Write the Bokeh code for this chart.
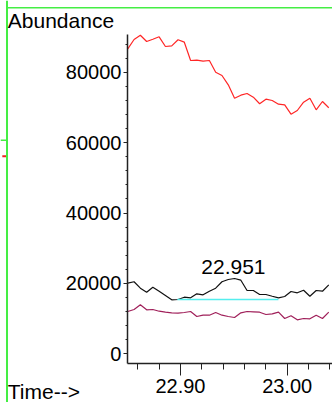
from bokeh.plotting import figure
from bokeh.models import Range1d, FixedTicker, PrintfTickFormatter, Label, Span
from bokeh.embed import file_html
from bokeh.resources import INLINE

# ---- data ----
times = [22.8506, 22.8565, 22.8624, 22.8683, 22.8741, 22.8800, 22.8859, 22.8918,
         22.8977, 22.9036, 22.9095, 22.9153, 22.9212, 22.9271, 22.9330, 22.9389,
         22.9448, 22.9507, 22.9566, 22.9624, 22.9683, 22.9742, 22.9801, 22.9860,
         22.9919, 22.9977, 23.0036, 23.0095, 23.0154, 23.0213, 23.0272, 23.0331,
         23.0390]

red_ion = [86650, 89290, 90510, 88720, 89380, 90060, 87300, 87500,
           89210, 88530, 83330, 83410, 83130, 83330, 80000, 79070,
           76420, 72620, 73470, 73950, 72900, 71030, 72330, 71960,
           70910, 70740, 68070, 69120, 71480, 72620, 69320, 71680,
           69890]

black_ion = [20060, 20460, 18640, 17500, 18920, 17780, 16560, 15340,
             15430, 16080, 15910, 17050, 16760, 17780, 18640, 20460,
             21110, 21390, 20910, 17980, 17980, 16850, 16850, 16360,
             15910, 16280, 17700, 17330, 18070, 16360, 17980, 17780,
             19600]

purple_ion = [12020, 12590, 13920, 12500, 12590, 12100, 11820, 11650,
              11530, 11730, 12020, 10600, 10970, 10970, 11730, 10970,
              10600, 10310, 11650, 12020, 11930, 11820, 11170, 11360,
              11820, 10030, 10800, 9660, 10030, 9940, 10970, 10030,
              11820]

baseline_t = [22.8971, 22.9918]
baseline_v = [15430, 15430]

peak_time_label = "22.951"
peak_label_t = 22.9496
peak_label_v = 24717

y_major = [0, 20000, 40000, 60000, 80000]
y_minor = [4000, 8000, 12000, 16000, 24000, 28000, 32000, 36000, 44000, 48000,
           52000, 56000, 64000, 68000, 72000, 76000, 84000, 88000]
x_major = [22.90, 23.00]
x_minor = [22.86, 22.88, 22.92, 22.94, 22.96, 22.98, 23.02, 23.04]

y_title = "Abundance"
x_title = "Time-->"

# view window (data units) and axis extents
x_view = (22.7313, 23.0425)
y_view = (-13836, 100373)
x_axis_span = (22.85033, 23.0425)
y_axis_span = (-2841, 90713)
title_x = 22.73815
y_title_at = 94776
x_title_at = -10569

FONT = "Liberation Sans"
FS = "20px"
FS_T = "21px"

p = figure(width=332, height=402, output_backend="svg", toolbar_location=None,
           x_range=Range1d(*x_view), y_range=Range1d(*y_view),
           min_border_left=0, min_border_right=0, min_border_top=0,
           min_border_bottom=0)
p.outline_line_color = None
p.grid.visible = False
p.background_fill_color = "white"
p.border_fill_color = "white"

# green panel edges
p.add_layout(Span(location=22.7374, dimension="height", line_color="#44ee44", line_width=2))
p.segment(x0=[22.7374], y0=[98299], x1=[23.0425], y1=[98299], line_color="#44ee44", line_width=1.5)
# remnants of the neighbouring panel at the left edge
p.segment(x0=[22.7313], y0=[60700], x1=[22.7374], y1=[60700], line_color="#44ee44", line_width=1.5)
p.segment(x0=[22.7330], y0=[56140], x1=[22.7365], y1=[56140], line_color="#ee2222", line_width=2)

# x axis
xa = p.xaxis[0]
xa.fixed_location = y_axis_span[0]
xa.bounds = x_axis_span
xa.ticker = FixedTicker(ticks=x_major, minor_ticks=x_minor)
xa.formatter = PrintfTickFormatter(format="%.2f")
xa.major_tick_out = 12
xa.major_tick_in = 0
xa.minor_tick_out = 6
xa.minor_tick_in = 0
xa.major_label_standoff = 3
xa.major_label_text_font = FONT
xa.major_label_text_font_size = FS
xa.major_label_text_color = "black"
xa.axis_line_color = "#222222"
xa.axis_line_width = 1.5
xa.major_tick_line_color = "#222222"
xa.minor_tick_line_color = "#222222"

# y axis
ya = p.yaxis[0]
ya.fixed_location = x_axis_span[0]
ya.bounds = y_axis_span
ya.ticker = FixedTicker(ticks=y_major, minor_ticks=y_minor)
ya.formatter = PrintfTickFormatter(format="%d")
ya.major_tick_out = 4
ya.major_tick_in = 0
ya.minor_tick_out = 2
ya.minor_tick_in = 0
ya.major_label_standoff = 2
ya.major_label_text_font = FONT
ya.major_label_text_font_size = FS
ya.major_label_text_color = "black"
ya.axis_line_color = "#222222"
ya.axis_line_width = 1.5
ya.major_tick_line_color = "#222222"
ya.minor_tick_line_color = "#222222"

# series
p.line(times, red_ion, line_color="#ff2626", line_width=1.2)
p.line(times, black_ion, line_color="#111111", line_width=1.2)
p.line(times, purple_ion, line_color="#a0205a", line_width=1.2)
p.line(baseline_t, baseline_v, line_color="#55eeee", line_width=1.5)

# texts
p.add_layout(Label(x=peak_label_t, y=peak_label_v, text=peak_time_label,
                   text_align="center", text_baseline="alphabetic",
                   text_font=FONT, text_font_size=FS_T, text_color="black"))
p.add_layout(Label(x=title_x, y=y_title_at, text=y_title,
                   text_align="left", text_baseline="alphabetic",
                   text_font=FONT, text_font_size=FS_T, text_color="black"))
p.add_layout(Label(x=title_x, y=x_title_at, text=x_title,
                   text_align="left", text_baseline="alphabetic",
                   text_font=FONT, text_font_size=FS_T, text_color="black"))

open("out.html", "w").write(file_html(p, INLINE))
